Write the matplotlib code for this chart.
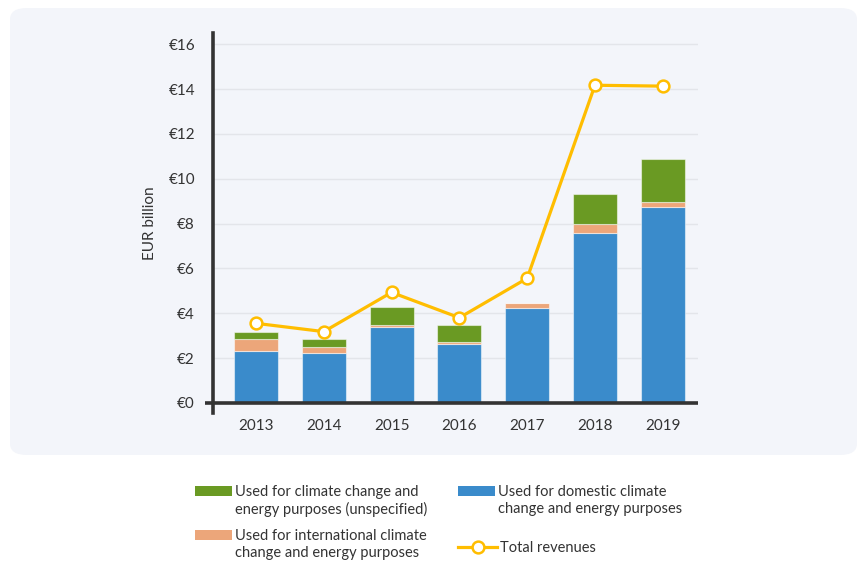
import matplotlib.pyplot as plt
from matplotlib.patches import FancyBboxPatch, Rectangle
from matplotlib.lines import Line2D

plt.rcParams['font.family'] = ['Lato', 'DejaVu Sans']

years = ['2013', '2014', '2015', '2016', '2017', '2018', '2019']
domestic = [2.32, 2.24, 3.37, 2.61, 4.23, 7.58, 8.75]
international = [0.53, 0.27, 0.12, 0.12, 0.21, 0.42, 0.22]
unspecified = [0.30, 0.33, 0.77, 0.73, 0.0, 1.30, 1.93]
total = [3.55, 3.18, 4.93, 3.80, 5.56, 14.17, 14.13]
yticks = [0, 2, 4, 6, 8, 10, 12, 14, 16]

c_green = '#6a9a23'
c_orange = '#eca67a'
c_blue = '#3a8bcb'
c_yellow = '#ffbd00'
c_dark = '#333333'
c_panel = '#f3f5fa'

fig = plt.figure(figsize=(8.59, 5.61), dpi=100)
fig.patch.set_facecolor('white')

# light background panel behind the chart
panel = FancyBboxPatch((10 / 859, 1 - 455 / 561), 847 / 859, 447 / 561,
                       boxstyle='round,pad=0,rounding_size=0.02',
                       transform=fig.transFigure, facecolor=c_panel,
                       edgecolor='none', zorder=-5)
fig.patches.append(panel)

ax = fig.add_axes([213 / 859, 1 - 413 / 561, 485 / 859, 380 / 561])
ax.set_facecolor('none')
ax.set_zorder(2)

x = list(range(len(years)))
w = 0.65
bottom2 = [d + i for d, i in zip(domestic, international)]
edge = dict(edgecolor='#ffffff80', linewidth=0.8, zorder=3)
ax.bar(x, domestic, w, color=c_blue, **edge)
ax.bar(x, international, w, bottom=domestic, color=c_orange, **edge)
ax.bar(x, unspecified, w, bottom=bottom2, color=c_green, **edge)
ax.plot(x, total, color=c_yellow, lw=2.3, marker='o', ms=8.5,
        mfc='white', mec=c_yellow, mew=1.8, zorder=5)

ax.set_xlim(-0.634, 6.52)
ax.set_ylim(-0.45, 16.5)
ax.set_yticks(yticks)
ax.set_yticklabels(['€%d' % v for v in yticks])
ax.set_xticks(x)
ax.set_xticklabels(years)
ax.tick_params(axis='y', length=0, pad=13, labelsize=11, labelcolor=c_dark)
ax.tick_params(axis='x', length=0, pad=4, labelsize=11, labelcolor=c_dark)
ax.grid(axis='y', color='#e3e5ea', lw=1, zorder=0)
ax.set_axisbelow(True)

for s in ['top', 'right', 'bottom']:
    ax.spines[s].set_visible(False)
ax.spines['left'].set_color(c_dark)
ax.spines['left'].set_linewidth(2.6)
ax.plot([-0.75, 6.52], [0, 0], color=c_dark, lw=2.6, clip_on=False,
        solid_capstyle='butt', zorder=6)

ax.set_ylabel('EUR billion', fontsize=11, color=c_dark, labelpad=8)

# legend drawn by hand below the panel
def fx(px):
    return px / 859


def fy(py):
    return 1 - py / 561


items = [
    (195, 491, c_green, 'Used for climate change and\nenergy purposes (unspecified)'),
    (195, 535, c_orange, 'Used for international climate\nchange and energy purposes'),
    (458, 491, c_blue, 'Used for domestic climate\nchange and energy purposes'),
]
for px, py, col, label in items:
    fig.patches.append(Rectangle((fx(px), fy(py + 5)), fx(37), 10 / 561,
                                 transform=fig.transFigure, facecolor=col,
                                 edgecolor='none'))
    fig.text(fx(px + 40), fy(py - 6), label, fontsize=10.5, color=c_dark,
             va='top', ha='left', linespacing=1.25)

fig.add_artist(Line2D([fx(458), fx(497)], [fy(547), fy(547)], color=c_yellow,
                      lw=2.3, transform=fig.transFigure))
fig.add_artist(Line2D([fx(478)], [fy(547)], color=c_yellow, marker='o',
                      ms=8.5, mfc='white', mew=1.8, transform=fig.transFigure))
fig.text(fx(500), fy(548), 'Total revenues', fontsize=10.5, color=c_dark,
         va='center', ha='left')

fig.savefig('out.png', dpi=100)
